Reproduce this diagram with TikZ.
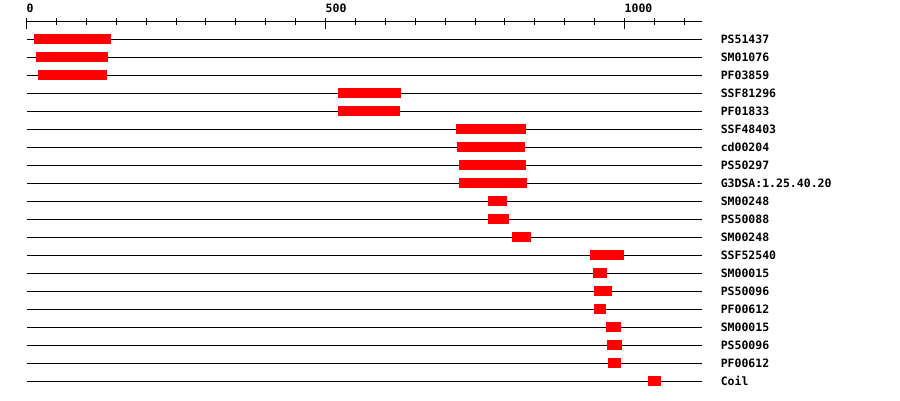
\documentclass[tikz,border=0pt]{standalone}
\usepackage{fontspec}
\setmonofont{DejaVu Sans Mono}
\usetikzlibrary{positioning}
\usepackage{xcolor}
\definecolor{Ink}{HTML}{000000}
\definecolor{Hit}{HTML}{FF0000}

\begin{document}
\begin{tikzpicture}[
            x=1pt, y=-1pt,
            track/.style={draw=Ink, line width=1pt},
            hit/.style={fill=Hit, draw=none},
            majortick/.style={draw=Ink, line width=1pt},
            dbname/.style={font=\ttfamily\bfseries\fontsize{11.5}{12}\selectfont, text=Ink, inner sep=0pt, anchor=base west}
        ]
            \useasboundingbox (0,0) rectangle (900,400);

            \begin{scope}[xshift=26.5pt, x=0.598pt]
                % ruler
                \coordinate (axstart) at (0,21);
                \coordinate (axend) at (1130,21);
                \draw[majortick] (axstart) -- (axend);
                \foreach \t in {50,100,...,1100}
                    \draw[majortick] (\t,18) -- (\t,24.5);
                \foreach \t in {0,500,1000} {
                    \draw[majortick] (\t,18) -- (\t,28.5);
                    \node[dbname] (ax\t) at (\t,12) {\t};
                }

                % one track per signature
                \foreach \name/\a/\b [count=\i] in {
                    PS51437/13/142, SM01076/16/137, PF03859/20/135,
                    SSF81296/521/627, PF01833/521/625,
                    SSF48403/718/835, cd00204/720/834, PS50297/723/835,
                    G3DSA:1.25.40.20/723/837,
                    SM00248/772/804, PS50088/772/807, SM00248/812/844,
                    SSF52540/942/999, SM00015/947/971, PS50096/949/979,
                    PF00612/949/969, SM00015/969/994, PS50096/971/996,
                    PF00612/973/994, Coil/1040/1061} {
                    \pgfmathsetmacro{\yy}{21+18*\i}
                    \coordinate (s\i) at (0,\yy);
                    \coordinate (e\i) at (1130,\yy);
                    \draw[track] (s\i) -- (e\i);
                    \fill[hit] (\a,\yy-5) rectangle (\b,\yy+5);
                    \node[dbname] (db\i) at ([xshift=18.3pt,yshift=-4.2pt]e\i) {\name};
                }
            \end{scope}
        \end{tikzpicture}
\end{document}
